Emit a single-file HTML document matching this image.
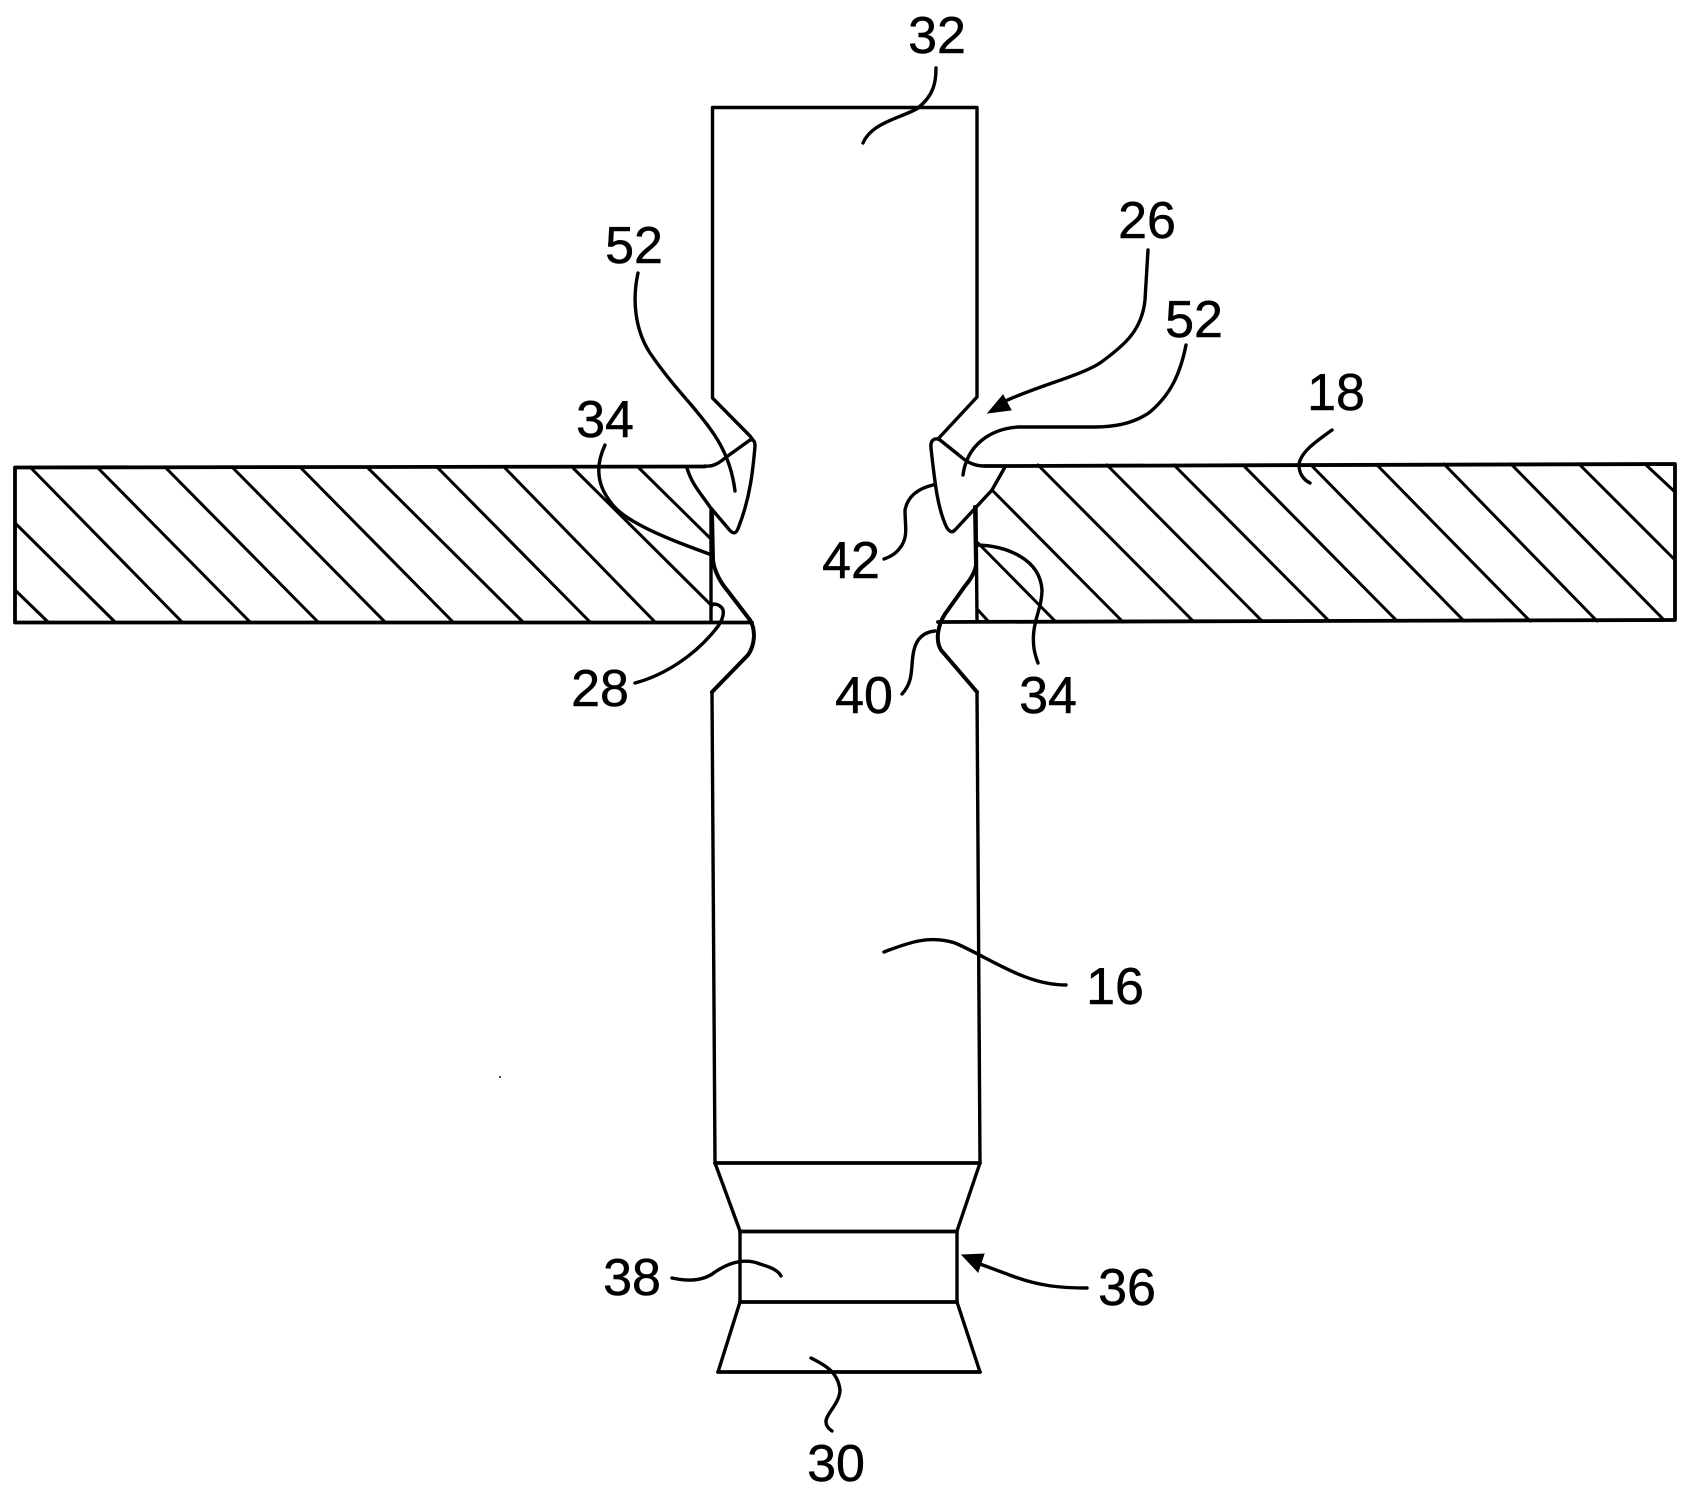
<!DOCTYPE html>
<html><head><meta charset="utf-8"><style>
html,body{margin:0;padding:0;background:#fff}
svg{display:block}
text{font-family:"Liberation Sans",sans-serif;font-size:52px;fill:#000;text-anchor:middle;stroke:#000;stroke-width:.5px}
.l{fill:none;stroke:#000;stroke-width:3.4;stroke-linecap:round;stroke-linejoin:round}
.h{fill:none;stroke:#000;stroke-width:3;stroke-linecap:round}
</style></head><body>
<svg width="1697" height="1490" viewBox="0 0 1697 1490" xmlns="http://www.w3.org/2000/svg">
<rect width="1697" height="1490" fill="#fff"/>
<!-- plates -->
<path class="l" style="stroke-width:3.8" d="M705 466.500L15 467.500V622.500H752M985 466H1005L1675 464V620L938 622"/>
<!-- hatching -->
<path class="h" d="M30 467L182 622M97 467L250 622M165 467L318 622M232 467L385 622M300 467L453 622M367 467L523 622M437 467L590 622M504 467L655 622M572 467L712 606M638 467L712 540M15 523L115 622M15 590L48 622
M1038 465L1193 621M1107 465L1262 621M1174 465L1329 621M1243 465L1397 621M1311 465L1464 621M1377 465L1530 621M1444 464L1597 621M1511 464L1664 620M1579 464L1675 560M1645 464L1675 492M992 490L1123 622M978 543L1055 621M978 610L988 621"/>
<!-- pin upper -->
<path class="l" d="M712.500 107.500H977V397L938 439M712.500 107.500V398L750 436L753 440"/>
<!-- left tooth -->
<path class="l" d="M687 468C692 485 702 495 710 507L727 527C733 535 736 535 739 526C750 498 753 470 755 446C755 441 753 439 750 440L725 458C718 464 712 467 705 466"/>
<!-- left pin contour -->
<path class="l" style="stroke-width:4" d="M712 512L713 560C714 570 720 582 727 590L750 620C756 630 755 645 748 655L712 692"/>
<path class="l" d="M711 510V622M712 692L715 1163"/>
<!-- right tooth -->
<path class="l" d="M1005 467L992 490L955 530C952 533 950 532 947 528C938 510 935 485 931 448C930 440 935 437 940 440L960 456C968 463 975 466 985 466"/>
<!-- right pin contour -->
<path class="l" style="stroke-width:4" d="M975 507L976 565C975 573 970 580 965 586L945 614C938 625 935 640 941 650L977 692"/>
<path class="l" d="M976 507L977 620M977 692L980 1163"/>
<!-- base -->
<path class="l" style="stroke-width:3.8" d="M715 1163H980M740 1231.500H957M740 1302H957M718 1372H980"/>
<path class="l" d="M715 1163L740 1231V1302L718 1372M980 1163L957 1231V1302L980 1372"/>
<!-- leaders -->
<path class="l" d="M936 68C936 82 934 95 918 108C902 118 872 122 863 143"/>
<path class="l" d="M638 273C632 300 635 330 650 353C665 375 680 392 693 407C710 428 730 450 735 491"/>
<path class="l" d="M1186 345C1180 375 1170 395 1150 412C1135 423 1115 427 1095 427H1018C990 429 967 445 963 475"/>
<path class="l" d="M1148 250L1145 300C1142 330 1125 345 1100 363C1080 376 1040 385 1003 402"/>
<path d="M988 413L1003 395L1011 410Z" fill="#000" stroke="#000" stroke-width="1"/>
<path class="l" d="M605 445C597 462 596 480 607 497C615 510 625 517 640 525C660 536 690 547 712 555"/>
<path class="l" d="M635 683C665 675 695 655 715 630C724 620 725 610 721 607C718 604 715 604 712 604"/>
<path class="l" d="M933 485C920 488 908 495 905 510C905 525 908 535 902 545C897 553 892 556 884 559"/>
<path class="l" d="M935 631C925 632 917 637 914 650C910 665 915 680 902 694"/>
<path class="l" d="M978 545C1005 546 1040 558 1042 590C1042 605 1036 615 1034 630C1032 645 1035 655 1038 663"/>
<path class="l" d="M1332 430C1318 440 1300 452 1299 465C1299 474 1304 480 1310 483"/>
<path class="l" d="M884 952C910 942 930 935 955 943C990 958 1025 985 1066 985"/>
<path class="l" d="M672 1278C690 1282 705 1280 715 1272C730 1262 745 1258 760 1264C770 1267 778 1270 781 1276"/>
<path class="l" d="M1087 1288C1060 1288 1040 1286 1015 1277L980 1264"/>
<path d="M962 1255L984 1254L978 1272Z" fill="#000" stroke="#000" stroke-width="1"/>
<path class="l" d="M811 1358C825 1365 838 1372 840 1390C840 1403 825 1415 826 1422C826 1426 829 1429 832 1431"/>
<circle cx="500" cy="1077" r="1.100" fill="#333"/>
<!-- labels -->
<text x="937" y="53">32</text>
<text x="634" y="263">52</text>
<text x="1147" y="238">26</text>
<text x="1194" y="337">52</text>
<text x="1336" y="410">18</text>
<text x="605" y="437">34</text>
<text x="851" y="578">42</text>
<text x="600" y="706">28</text>
<text x="864" y="713">40</text>
<text x="1048" y="713">34</text>
<text x="1115" y="1004">16</text>
<text x="632" y="1295">38</text>
<text x="1127" y="1305">36</text>
<text x="836" y="1481">30</text>
</svg>
</body></html>
